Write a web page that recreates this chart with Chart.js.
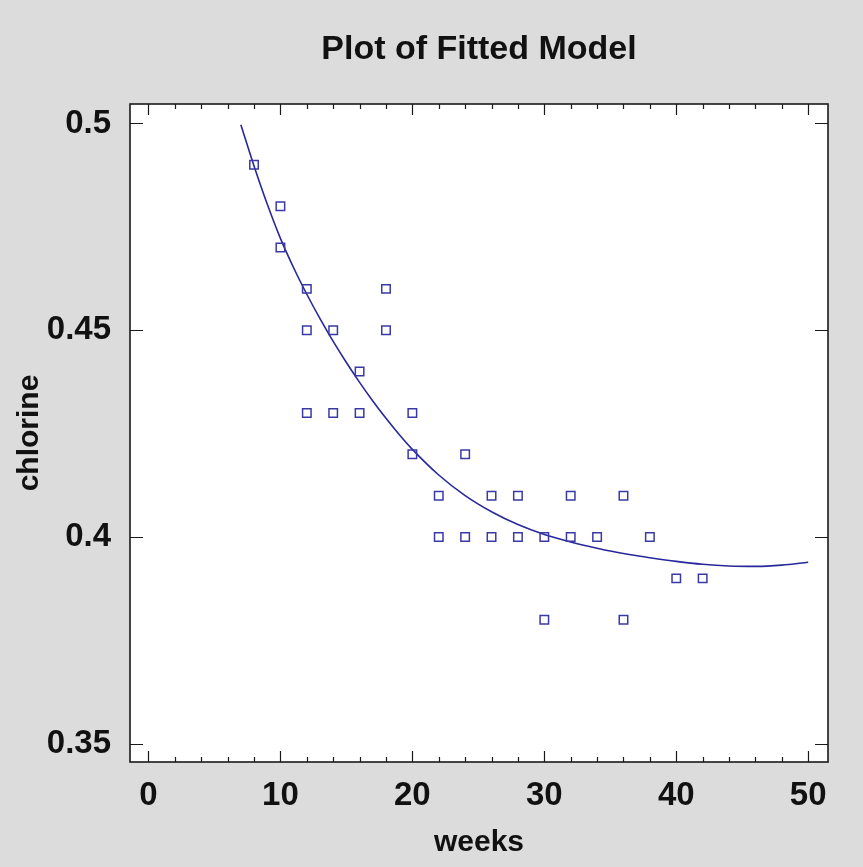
<!DOCTYPE html>
<html>
<head>
<meta charset="utf-8">
<script src="https://cdn.jsdelivr.net/npm/chart.js@4/dist/chart.umd.min.js"></script>
<style>
  html, body { margin: 0; padding: 0; background: #dcdcdc; }
  #wrap { width: 863px; height: 867px; }
</style>
</head>
<body>
<div id="wrap"><canvas id="chart1" width="863" height="867"></canvas></div>
<script>
// observed data
const weeks = [8, 10, 10, 12, 12, 12, 14, 14, 16, 16, 18, 18, 20, 20, 22, 22, 24, 24,
  26, 26, 28, 28, 30, 30, 32, 32, 34, 36, 36, 38, 40, 42];
const chlorine = [0.49, 0.48, 0.47, 0.46, 0.45, 0.43, 0.45, 0.43, 0.44, 0.43, 0.46, 0.45,
  0.43, 0.42, 0.41, 0.40, 0.42, 0.40, 0.41, 0.40, 0.41, 0.40, 0.40, 0.38, 0.41, 0.40,
  0.40, 0.41, 0.38, 0.40, 0.39, 0.39];

// fitted model curve
const fitWeeks = [7, 8, 9, 10, 11, 12, 13, 14, 15, 16, 17, 18, 19, 20, 22, 24, 26, 28,
  30, 32, 34, 36, 38, 40, 42, 44, 46, 48, 50];
const fitChlorine = [0.4997, 0.4897, 0.4805, 0.4722, 0.4651, 0.4587, 0.4528, 0.4473,
  0.4422, 0.4374, 0.4329, 0.4287, 0.4248, 0.4212, 0.4150, 0.4100, 0.4061, 0.4030,
  0.4006, 0.3988, 0.3973, 0.3960, 0.3950, 0.3941, 0.3934, 0.3930, 0.3929, 0.3932, 0.3939];

// tick labels
const xTicks = [0, 10, 20, 30, 40, 50];
const yTicks = [0.35, 0.4, 0.45, 0.5];

const fontFamily = "'Liberation Sans', Arial, sans-serif";

// grey page, white plot box, black frame with inward ticks
const framePlugin = {
  id: 'frame',
  beforeDraw(chart) {
    const { ctx, chartArea: a } = chart;
    ctx.save();
    ctx.fillStyle = '#dcdcdc';
    ctx.fillRect(0, 0, chart.width, chart.height);
    ctx.fillStyle = '#ffffff';
    ctx.fillRect(a.left, a.top, a.right - a.left, a.bottom - a.top);
    ctx.restore();
  },
  afterDraw(chart) {
    const { ctx, chartArea: a, scales } = chart;
    const xs = scales.x, ys = scales.y;
    ctx.save();
    ctx.strokeStyle = '#1a1a1a';
    ctx.lineWidth = 1.6;
    ctx.strokeRect(a.left, a.top, a.right - a.left, a.bottom - a.top);
    ctx.lineWidth = 1.2;
    ctx.beginPath();
    for (let v = 0; v <= 50; v += 2) {
      const px = Math.round(xs.getPixelForValue(v)) + 0.5;
      const len = v % 10 === 0 ? 11 : 5;
      ctx.moveTo(px, a.bottom); ctx.lineTo(px, a.bottom - len);
      ctx.moveTo(px, a.top); ctx.lineTo(px, a.top + len);
    }
    yTicks.forEach(v => {
      const py = Math.round(ys.getPixelForValue(v)) + 0.5;
      ctx.moveTo(a.left, py); ctx.lineTo(a.left + 13, py);
      ctx.moveTo(a.right, py); ctx.lineTo(a.right - 13, py);
    });
    ctx.stroke();
    ctx.restore();
  }
};

const ctx = document.getElementById('chart1').getContext('2d');
const chart1 = new Chart(ctx, {
  type: 'scatter',
  data: {
    datasets: [
      {
        label: 'fitted',
        data: fitWeeks.map((w, i) => ({ x: w, y: fitChlorine[i] })),
        showLine: true,
        borderColor: '#28289a',
        borderWidth: 1.6,
        pointRadius: 0,
        cubicInterpolationMode: 'monotone',
        order: 2
      },
      {
        label: 'chlorine',
        data: weeks.map((w, i) => ({ x: w, y: chlorine[i] })),
        pointStyle: 'rect',
        pointRadius: 6,
        pointBorderWidth: 1.5,
        pointBorderColor: '#3a3aa6',
        pointBackgroundColor: 'rgba(255,255,255,0)',
        order: 1
      }
    ]
  },
  options: {
    responsive: false,
    animation: false,
    devicePixelRatio: 1,
    layout: { padding: { left: 0, right: 35, top: 0, bottom: 0 } },
    plugins: {
      legend: { display: false },
      tooltip: { enabled: false },
      title: {
        display: true,
        text: 'Plot of Fitted Model',
        fullSize: false,
        color: '#111',
        font: { family: fontFamily, size: 34, weight: 'bold' },
        padding: { top: 29, bottom: 34.2 }
      }
    },
    scales: {
      x: {
        type: 'linear',
        min: -1.4,
        max: 51.5,
        afterBuildTicks: scale => { scale.ticks = xTicks.map(v => ({ value: v })); },
        afterFit: scale => { scale.height = 105; },
        grid: { display: false, drawTicks: false },
        border: { display: false },
        ticks: {
          padding: 14,
          color: '#111',
          font: { family: fontFamily, size: 33, weight: 'bold' },
          callback: v => String(v)
        },
        title: {
          display: true,
          text: 'weeks',
          color: '#111',
          font: { family: fontFamily, size: 30, weight: 'bold' },
          padding: { top: 0, bottom: 6 }
        }
      },
      y: {
        type: 'linear',
        min: 0.3456,
        max: 0.5047,
        afterBuildTicks: scale => { scale.ticks = yTicks.map(v => ({ value: v })); },
        afterFit: scale => { scale.width = 130; },
        grid: { display: false, drawTicks: false },
        border: { display: false },
        ticks: {
          padding: 19,
          color: '#111',
          font: { family: fontFamily, size: 33, weight: 'bold' },
          callback: v => String(v)
        },
        title: {
          display: true,
          text: 'chlorine',
          color: '#111',
          font: { family: fontFamily, size: 30, weight: 'bold' },
          padding: { top: 12, bottom: 0 }
        }
      }
    }
  },
  plugins: [framePlugin]
});
</script>
</body>
</html>
